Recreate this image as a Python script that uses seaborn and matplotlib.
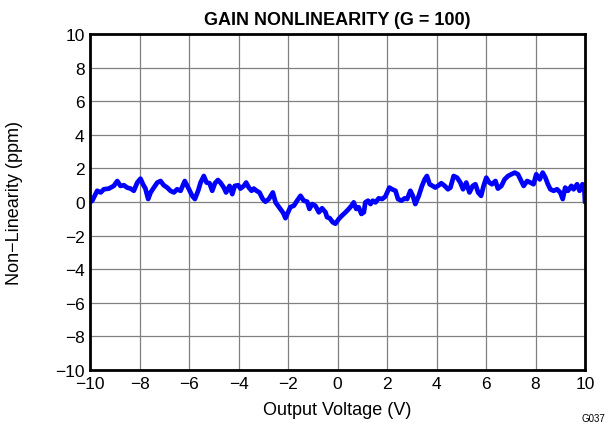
import matplotlib
matplotlib.use("Agg")
import matplotlib.pyplot as plt
import seaborn as sns
import pandas as pd

# Output voltage (V) and measured gain non-linearity (ppm)
output_voltage = [
    -10.00, -9.92, -9.72, -9.58, -9.45, -9.25, -9.05, -8.91, -8.78, -8.64,
    -8.51, -8.37, -8.24, -8.10, -7.97, -7.87, -7.77, -7.66, -7.56, -7.43,
    -7.29, -7.16, -7.03, -6.89, -6.76, -6.62, -6.49, -6.35, -6.18, -6.01,
    -5.88, -5.77, -5.64, -5.54, -5.41, -5.30, -5.18, -5.07, -4.96, -4.84,
    -4.74, -4.60, -4.51, -4.37, -4.26, -4.16, -4.02, -3.93, -3.79, -3.70,
    -3.59, -3.48, -3.39, -3.28, -3.16, -3.03, -2.92, -2.78, -2.62, -2.51,
    -2.41, -2.31, -2.20, -2.11, -1.91, -1.77, -1.64, -1.50, -1.37, -1.23,
    -1.14, -1.03, -0.90, -0.76, -0.63, -0.49, -0.43, -0.32, -0.20, -0.09,
    0.05, 0.18, 0.32, 0.45, 0.56, 0.65, 0.75, 0.85, 0.96, 1.06,
    1.12, 1.23, 1.33, 1.42, 1.53, 1.66, 1.80, 1.93, 2.09, 2.20,
    2.34, 2.44, 2.58, 2.71, 2.81, 2.94, 3.04, 3.14, 3.28, 3.41,
    3.52, 3.61, 3.72, 3.84, 3.95, 4.09, 4.19, 4.33, 4.46, 4.56,
    4.69, 4.83, 4.96, 5.07, 5.20, 5.33, 5.46, 5.57, 5.68, 5.80,
    5.90, 6.01, 6.13, 6.24, 6.38, 6.48, 6.62, 6.75, 6.89, 7.02,
    7.16, 7.29, 7.39, 7.52, 7.66, 7.79, 7.92, 8.03, 8.17, 8.29,
    8.40, 8.50, 8.60, 8.73, 8.87, 9.00, 9.10, 9.20, 9.31, 9.45,
    9.54, 9.68, 9.78, 9.90, 9.98, 10.00,
]
nonlinearity_ppm = [
    0.00, 0.08, 0.67, 0.57, 0.76, 0.80, 0.96, 1.25, 0.96, 1.00,
    0.86, 0.80, 0.67, 1.16, 1.39, 1.06, 0.80, 0.18, 0.57, 0.86,
    1.16, 1.25, 1.00, 0.86, 0.67, 0.57, 0.76, 0.67, 1.25, 0.76,
    0.37, 0.18, 0.67, 1.16, 1.55, 1.16, 1.12, 0.67, 1.12, 1.31,
    1.16, 0.86, 0.57, 0.96, 0.47, 0.96, 1.00, 0.80, 0.96, 1.16,
    0.86, 0.67, 0.80, 0.67, 0.57, 0.18, 0.02, 0.18, 0.57, -0.02,
    -0.22, -0.41, -0.65, -0.96, -0.30, -0.22, 0.08, 0.37, 0.08, 0.02,
    -0.41, -0.12, -0.22, -0.61, -0.37, -0.61, -0.90, -0.96, -1.20, -1.29,
    -1.00, -0.80, -0.61, -0.41, -0.22, -0.02, -0.41, -0.31, -0.71, -0.61,
    -0.02, 0.08, -0.12, 0.08, -0.02, 0.22, 0.18, 0.33, 0.86, 0.76,
    0.67, 0.18, 0.08, 0.22, 0.18, 0.67, 0.37, -0.12, 0.37, 0.96,
    1.35, 1.55, 1.06, 0.96, 0.86, 1.00, 1.12, 0.96, 0.76, 0.86,
    1.55, 1.45, 1.16, 0.76, 1.16, 0.57, 0.96, 1.06, 0.57, 0.37,
    0.96, 1.45, 1.16, 1.06, 1.25, 0.80, 0.96, 1.35, 1.55, 1.65,
    1.75, 1.65, 1.35, 0.96, 1.25, 1.16, 1.06, 1.65, 1.35, 1.75,
    1.45, 1.06, 0.76, 0.67, 0.76, 0.57, 0.18, 0.86, 0.67, 0.96,
    0.76, 1.06, 0.67, 1.06, 0.60, 0.00,
]
axis_ticks = [-10, -8, -6, -4, -2, 0, 2, 4, 6, 8, 10]

df = pd.DataFrame({"Output Voltage (V)": output_voltage,
                   "Non-Linearity (ppm)": nonlinearity_ppm})

sns.set_theme(style="white")
plt.rcParams["font.family"] = ["Liberation Sans", "DejaVu Sans"]
plt.rcParams["text.color"] = "black"
plt.rcParams["axes.labelcolor"] = "black"

fig = plt.figure(figsize=(6.10, 4.27), dpi=100)
ax = fig.add_axes([0.148, 0.131, 0.811, 0.787])

sns.lineplot(data=df, x="Output Voltage (V)", y="Non-Linearity (ppm)",
             ax=ax, color="#0000FF", linewidth=3.4, sort=False,
             estimator=None, zorder=3)

ax.set_xlim(-10, 10)
ax.set_ylim(-10, 10)
ax.set_xticks(axis_ticks)
ax.set_yticks(axis_ticks)
ax.grid(True, color="#808080", linewidth=0.9)
ax.set_axisbelow(True)
ax.tick_params(axis="both", length=0, pad=4, labelsize=12.5, colors="black")

for spine in ax.spines.values():
    spine.set_visible(True)
    spine.set_color("black")
    spine.set_linewidth(2.0)
    spine.set_zorder(4)

ax.set_xlabel("Output Voltage (V)", fontsize=13)
ax.set_ylabel("Non\u2212Linearity (ppm)", fontsize=13)
ax.xaxis.set_label_coords(0.5, -0.092)
ax.yaxis.set_label_coords(-0.135, 0.5)
ax.set_title("GAIN NONLINEARITY (G = 100)", fontsize=13, fontweight="bold",
             color="black", pad=7)

fig.text(0.992, 0.008, "G037", fontsize=7, ha="right", va="bottom")

fig.savefig("out.png", dpi=100)
